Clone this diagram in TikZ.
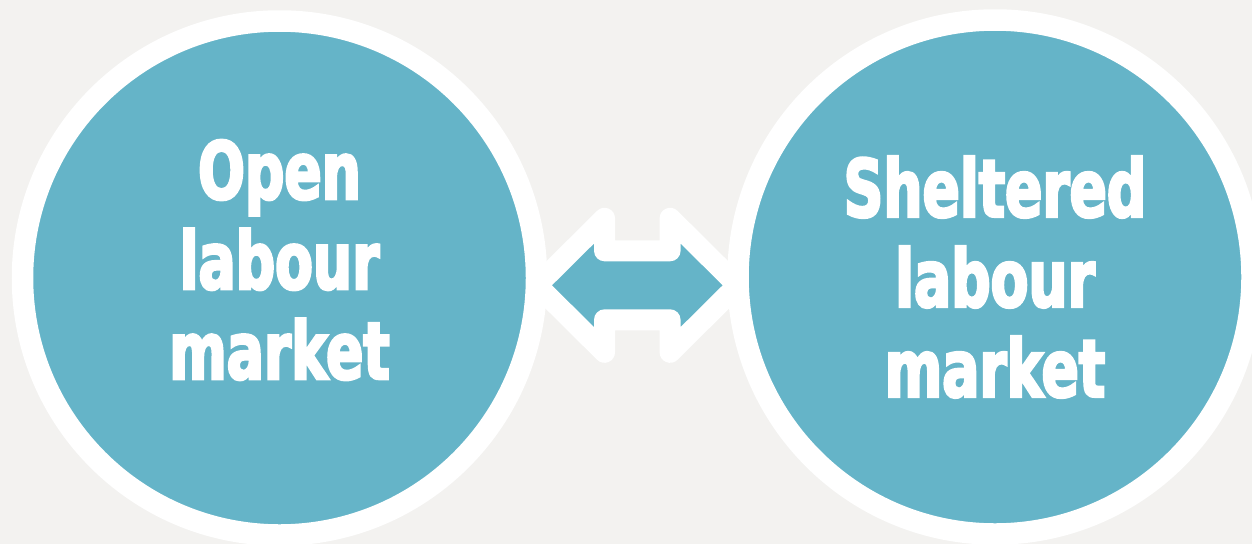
\documentclass[tikz,border=0pt]{standalone}
\usepackage{fontspec}
\usepackage{tikz}
\usetikzlibrary{positioning,calc}
\newfontfamily\heavyfont{DejaVu Sans Condensed Bold}[FakeStretch=0.765, FakeBold=3]
\definecolor{lmbg}{RGB}{243,242,240}
\definecolor{lmteal}{RGB}{101,180,200}
\definecolor{lmring}{RGB}{255,255,255}
\tikzset{
  market/.style={
    circle, fill=lmteal, draw=lmring, line width=21.5pt,
    minimum size=514pt, inner sep=0pt
  },
  lbl/.style={
    text=white, align=center, inner sep=0pt,
    font=\heavyfont\fontsize{80pt}{90pt}\selectfont
  },
  swaparrow/.style={
    fill=lmteal, draw=lmring, line width=21pt, line join=round
  }
}
\begin{document}
\begin{tikzpicture}[x=1pt, y=-1pt]
  \useasboundingbox (0,0) rectangle (1252,544);
  \fill[lmbg] (0,0) rectangle (1252,544);
  \coordinate (mid) at (637.3,285.3);
  \draw[swaparrow, shift={(mid)}]
    (-100.3,0) -- (-32.8,-67) -- (-32.8,-34.5) -- (32.8,-34.5) -- (32.8,-67)
    -- (100.3,0) -- (32.8,67) -- (32.8,34.5) -- (-32.8,34.5) -- (-32.8,67) -- cycle;
  \node[market] (open) at (279.5,278) {};
  \node[market] (shelt) at (995,277) {};
  \node[lbl] (opentxt) at ([yshift=18pt]open.center) {Open\\labour\\market};
  \node[lbl] (shelttxt) at (shelt.center) {Sheltered\\labour\\market};
\end{tikzpicture}
\end{document}
